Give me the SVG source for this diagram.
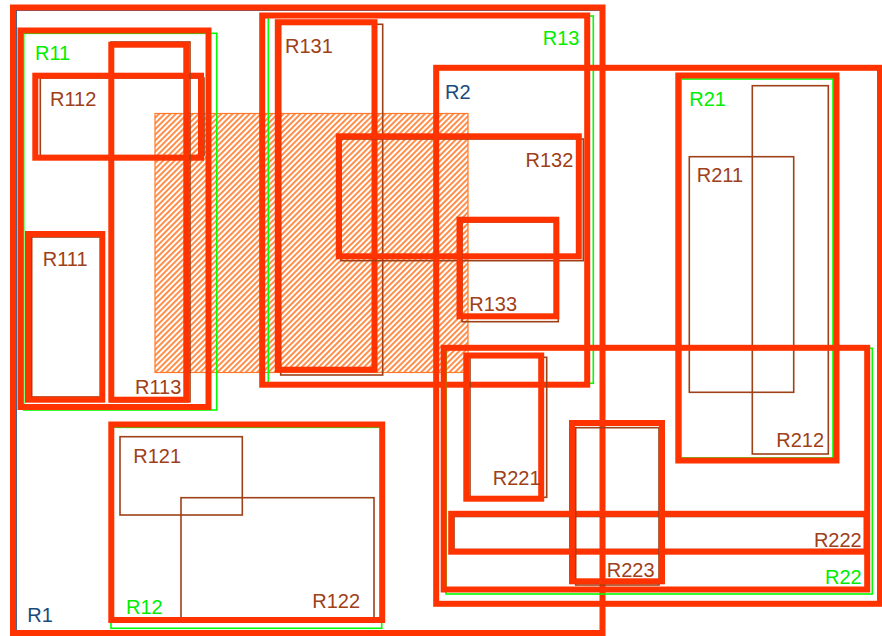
<svg xmlns="http://www.w3.org/2000/svg" width="882" height="636" viewBox="0 0 882 636">
<style>
.hl{fill:none;stroke:#ff3300;stroke-width:6}
.br{fill:none;stroke:#9e4018;stroke-width:1.6}
.gr{fill:none;stroke:#00ff00;stroke-width:1.6}
.bl{fill:none;stroke:#1a3f6f;stroke-width:1.6}
text{font-family:"Liberation Sans",Arial,sans-serif;font-size:20px}
.tb{fill:#9e4018}
.tg{fill:#00ee00}
.tn{fill:#1a4a7a}
.end{text-anchor:end}
</style>
<defs>
<pattern id="hatch" patternUnits="userSpaceOnUse" width="4" height="4" patternTransform="rotate(45)">
<rect width="4" height="4" fill="#ffffff"/>
<line x1="1" y1="0" x2="1" y2="4" stroke="#ff8236" stroke-width="1.8"/>
</pattern>
</defs>
<rect width="882" height="636" fill="#ffffff"/>
<rect id="window" x="155" y="113.5" width="313" height="259" fill="url(#hatch)" stroke="#ff7a2a" stroke-width="1.2"/>
<g id="connectors"/>
<g id="R111"><rect class="br" x="31.7" y="237" width="70" height="160"/><rect class="hl" x="28" y="234" width="74.3" height="165.7"/><text class="tb" x="42.7" y="265.7">R111</text></g>
<g id="R112"><rect class="br" x="40.3" y="78" width="163.7" height="77.7"/><rect class="hl" x="35.3" y="75.7" width="165.7" height="82"/><text class="tb" x="50" y="106">R112</text></g>
<g id="R113"><rect class="br" x="111" y="42" width="79" height="359.7"/><rect class="hl" x="111.3" y="44.7" width="75" height="355"/><text class="tb" x="135" y="394">R113</text></g>
<g id="R11"><rect class="gr" x="23.7" y="33.3" width="193" height="376.7"/><rect class="hl" x="20.5" y="30.5" width="188" height="376.5"/><text class="tg" x="35" y="60">R11</text></g>
<g id="R121"><rect class="br" x="120" y="436.7" width="122.3" height="78.3"/><text class="tb" x="133.3" y="463.3">R121</text></g>
<g id="R122"><rect class="br" x="181" y="497.7" width="193" height="120.6"/><text class="tb end" x="360" y="607.7">R122</text></g>
<g id="R12"><rect class="gr" x="111" y="427.3" width="270.7" height="201"/><rect class="hl" x="111.3" y="424.5" width="270.9" height="195.5"/><text class="tg" x="126" y="614">R12</text></g>
<g id="R131"><rect class="br" x="280.7" y="24.3" width="102" height="350.7"/><rect class="hl" x="277.8" y="22.2" width="96.7" height="347.5"/><text class="tb" x="285" y="53.3">R131</text></g>
<g id="R132"><rect class="br" x="341" y="139" width="242.3" height="121.7"/><rect class="hl" x="338.8" y="136.3" width="240" height="120"/><text class="tb end" x="573.3" y="166.7">R132</text></g>
<g id="R133"><rect class="br" x="462" y="222" width="96.3" height="99.7"/><rect class="hl" x="459.5" y="219.7" width="96.8" height="96.6"/><text class="tb" x="469.3" y="311">R133</text></g>
<g id="R13"><rect class="gr" x="268.3" y="16" width="325" height="367.3"/><rect class="hl" x="262.2" y="15.5" width="325" height="369.2"/><text class="tg" x="542.7" y="45">R13</text></g>
<g id="R1"><rect class="bl" x="16" y="10" width="586.5" height="623"/><rect class="hl" x="13" y="7.5" width="589.5" height="625.5"/><text class="tn" x="27.3" y="622.3">R1</text></g>
<g id="R211"><rect class="br" x="689.3" y="156.7" width="104.4" height="235.6"/><text class="tb" x="696.7" y="181.7">R211</text></g>
<g id="R212"><rect class="br" x="752.3" y="85.7" width="76" height="368.3"/><text class="tb end" x="824" y="447.3">R212</text></g>
<g id="R21"><rect class="gr" x="681" y="79" width="152" height="379"/><rect class="hl" x="678.3" y="75.5" width="158.2" height="385"/><text class="tg" x="689.3" y="105.7">R21</text></g>
<g id="R221"><rect class="br" x="470" y="357.3" width="76.7" height="140"/><rect class="hl" x="466.3" y="355.5" width="74.9" height="143.2"/><text class="tb" x="492.7" y="485">R221</text></g>
<g id="R222"><rect class="br" x="454" y="516.5" width="411" height="33"/><rect class="hl" x="451.2" y="513.8" width="415.3" height="37.9"/><text class="tb end" x="861.7" y="546.7">R222</text></g>
<g id="R223"><rect class="br" x="575.7" y="427.7" width="83.3" height="157.3"/><rect class="hl" x="572" y="423" width="90" height="158.3"/><text class="tb" x="606.7" y="576.7">R223</text></g>
<g id="R22"><rect class="gr" x="446" y="348.3" width="426.3" height="245.7"/><rect class="hl" x="443.7" y="347.8" width="423.5" height="241.7"/><text class="tg end" x="861.7" y="584.3">R22</text></g>
<g id="R2"><rect class="bl" x="436.2" y="67.8" width="443.8" height="536"/><rect class="hl" x="436.2" y="67.8" width="443.8" height="536"/><text class="tn" x="445" y="99">R2</text></g>
</svg>
